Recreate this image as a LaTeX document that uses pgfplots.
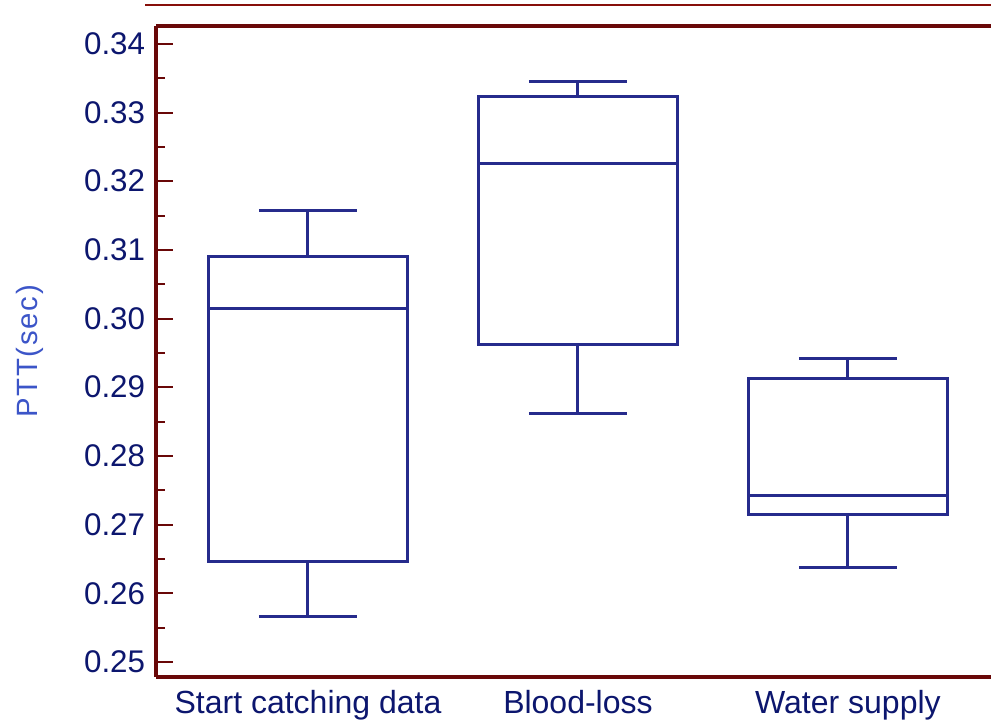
\documentclass[border=0pt]{standalone}
\usepackage{fontspec}
\setmainfont{Liberation Sans}
\usepackage{pgfplots}
\pgfplotsset{compat=1.18}
\definecolor{spine}{RGB}{105,8,8}
\definecolor{topline}{RGB}{135,15,10}
\definecolor{boxc}{RGB}{38,43,140}
\definecolor{tickc}{RGB}{12,22,110}
\definecolor{labc}{RGB}{60,85,200}
\pgfplotsset{bx/.style={draw=boxc, line width=2.25pt, mark=none, solid}}
\begin{document}
\begin{tikzpicture}
\begin{axis}[
  scale only axis,
  width=626.25pt, height=488.25pt,
  xmin=0.437, xmax=3.53,
  ymin=0.2478, ymax=0.3426,
  axis x line=box, axis y line=left,
  axis line style={-, draw=spine, line width=3pt},
  xtick={1,2,3},
  xticklabels={Start catching data, Blood-loss, Water supply},
  x tick style={draw=none},
  xticklabel style={anchor=base, yshift=-27.5pt, inner sep=0pt, font=\fontsize{24}{28}\selectfont, text=tickc},
  ytick={0.25,0.26,...,0.345},
  minor y tick num=1,
  tick align=inside,
  y tick style={draw=spine, line width=1.5pt},
  major tick length=12.75pt,
  minor tick length=6.5pt,
  yticklabel style={anchor=east, xshift=-8pt, inner sep=0pt, font=\fontsize{23.5}{27}\selectfont, text=tickc},
  /pgf/number format/assume math mode=true,
  /pgf/number format/fixed,
  /pgf/number format/fixed zerofill,
  /pgf/number format/precision=2,
  ylabel={PTT(sec)},
  every axis y label/.style={at={(ticklabel cs:0.5)}, rotate=90, anchor=center, yshift=41pt,
    font=\fontsize{22}{26}\selectfont\addfontfeature{LetterSpace=6}, text=labc},
  clip=false,
]
% Start catching data: lw 0.2566, q1 0.2646, med 0.3014, q3 0.3091, uw 0.3158
\addplot[bx] coordinates {(0.63,0.2646) (1.37,0.2646) (1.37,0.3091) (0.63,0.3091)} -- cycle;
\addplot[bx] coordinates {(0.63,0.3014) (1.37,0.3014)};
\addplot[bx] coordinates {(1,0.3091) (1,0.3158)};
\addplot[bx] coordinates {(0.8185,0.3158) (1.1815,0.3158)};
\addplot[bx] coordinates {(1,0.2646) (1,0.2566)};
\addplot[bx] coordinates {(0.8185,0.2566) (1.1815,0.2566)};
% Blood-loss: lw 0.2861, q1 0.2962, med 0.3226, q3 0.3323, uw 0.3345
\addplot[bx] coordinates {(1.63,0.2962) (2.37,0.2962) (2.37,0.3323) (1.63,0.3323)} -- cycle;
\addplot[bx] coordinates {(1.63,0.3226) (2.37,0.3226)};
\addplot[bx] coordinates {(2,0.3323) (2,0.3345)};
\addplot[bx] coordinates {(1.8185,0.3345) (2.1815,0.3345)};
\addplot[bx] coordinates {(2,0.2962) (2,0.2861)};
\addplot[bx] coordinates {(1.8185,0.2861) (2.1815,0.2861)};
% Water supply: lw 0.2638, q1 0.2714, med 0.2743, q3 0.2912, uw 0.2942
\addplot[bx] coordinates {(2.63,0.2714) (3.37,0.2714) (3.37,0.2912) (2.63,0.2912)} -- cycle;
\addplot[bx] coordinates {(2.63,0.2743) (3.37,0.2743)};
\addplot[bx] coordinates {(3,0.2912) (3,0.2942)};
\addplot[bx] coordinates {(2.8185,0.2942) (3.1815,0.2942)};
\addplot[bx] coordinates {(3,0.2714) (3,0.2638)};
\addplot[bx] coordinates {(2.8185,0.2638) (3.1815,0.2638)};
\end{axis}
\draw[topline, line width=1.5pt] ([xshift=-8.25pt, yshift=15.75pt]current axis.north west) -- ([xshift=5pt, yshift=15.75pt]current axis.north east);
\pgfresetboundingbox
\path[use as bounding box] ([xshift=-117pt, yshift=-33pt]current axis.south west) rectangle ([yshift=19.5pt]current axis.north east);
\end{tikzpicture}
\end{document}
